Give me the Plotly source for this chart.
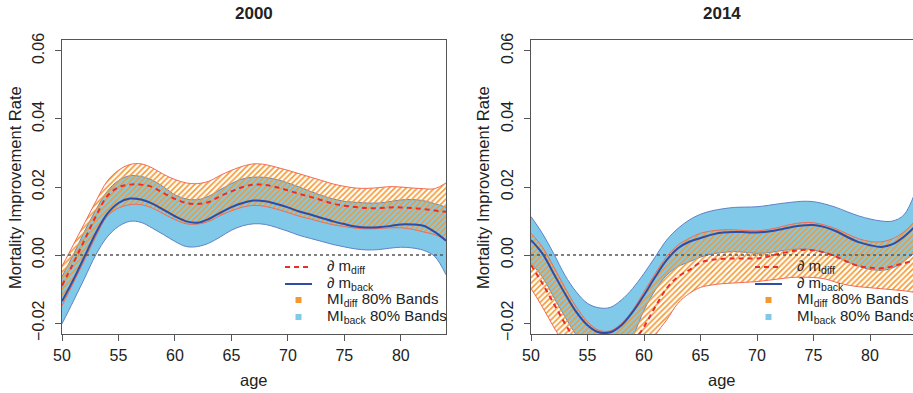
import plotly.graph_objects as go

ages = list(range(50, 85))

# ---- 2000 ----
diff_mean_2000 = [-0.0090, -0.0024, 0.0045, 0.0114, 0.0173, 0.0199, 0.0207, 0.0207, 0.0200, 0.0182, 0.0165, 0.0153, 0.0150, 0.0156, 0.0173, 0.0187, 0.0200, 0.0207, 0.0206, 0.0199, 0.0190, 0.0180, 0.0171, 0.0161, 0.0151, 0.0145, 0.0141, 0.0138, 0.0138, 0.0140, 0.0140, 0.0138, 0.0135, 0.0131, 0.0127]
diff_upper_2000 = [-0.0033, 0.0030, 0.0094, 0.0158, 0.0217, 0.0249, 0.0266, 0.0268, 0.0256, 0.0237, 0.0222, 0.0212, 0.0210, 0.0217, 0.0234, 0.0249, 0.0261, 0.0268, 0.0266, 0.0258, 0.0249, 0.0239, 0.0229, 0.0219, 0.0209, 0.0202, 0.0197, 0.0196, 0.0198, 0.0201, 0.0200, 0.0197, 0.0195, 0.0195, 0.0212]
diff_lower_2000 = [-0.0149, -0.0082, -0.0014, 0.0055, 0.0114, 0.0138, 0.0148, 0.0148, 0.0138, 0.0121, 0.0104, 0.0092, 0.0091, 0.0099, 0.0116, 0.0130, 0.0141, 0.0146, 0.0143, 0.0135, 0.0125, 0.0114, 0.0106, 0.0097, 0.0089, 0.0084, 0.0079, 0.0077, 0.0078, 0.0080, 0.0080, 0.0076, 0.0068, 0.0060, 0.0045]
back_mean_2000 = [-0.0136, -0.0073, -0.0004, 0.0065, 0.0121, 0.0153, 0.0166, 0.0163, 0.0151, 0.0133, 0.0114, 0.0099, 0.0095, 0.0106, 0.0124, 0.0141, 0.0153, 0.0160, 0.0158, 0.0150, 0.0140, 0.0128, 0.0119, 0.0109, 0.0099, 0.0091, 0.0084, 0.0081, 0.0082, 0.0085, 0.0090, 0.0090, 0.0086, 0.0068, 0.0042]
back_upper_2000 = [-0.0063, 0.0001, 0.0070, 0.0133, 0.0187, 0.0219, 0.0233, 0.0231, 0.0220, 0.0200, 0.0177, 0.0165, 0.0163, 0.0173, 0.0192, 0.0210, 0.0224, 0.0229, 0.0228, 0.0222, 0.0212, 0.0200, 0.0187, 0.0175, 0.0165, 0.0158, 0.0155, 0.0153, 0.0153, 0.0157, 0.0162, 0.0163, 0.0160, 0.0151, 0.0141]
back_lower_2000 = [-0.0202, -0.0136, -0.0068, 0.0001, 0.0053, 0.0084, 0.0099, 0.0096, 0.0079, 0.0060, 0.0040, 0.0025, 0.0025, 0.0035, 0.0053, 0.0073, 0.0086, 0.0092, 0.0090, 0.0081, 0.0070, 0.0058, 0.0049, 0.0040, 0.0031, 0.0024, 0.0018, 0.0015, 0.0016, 0.0020, 0.0023, 0.0021, 0.0014, -0.0004, -0.0058]

# ---- 2014 ----
diff_mean_2014 = [-0.0029, -0.0083, -0.0142, -0.0201, -0.0255, -0.0300, -0.0330, -0.0330, -0.0310, -0.0260, -0.0211, -0.0152, -0.0098, -0.0064, -0.0044, -0.0022, -0.0014, -0.0011, -0.0010, -0.0010, -0.0010, -0.0004, 0.0004, 0.0011, 0.0015, 0.0014, 0.0007, -0.0005, -0.0020, -0.0032, -0.0037, -0.0039, -0.0033, -0.0024, -0.0015]
diff_upper_2014 = [0.0064, 0.0024, -0.0034, -0.0095, -0.0152, -0.0196, -0.0221, -0.0223, -0.0201, -0.0162, -0.0108, -0.0054, -0.0005, 0.0029, 0.0049, 0.0064, 0.0071, 0.0074, 0.0074, 0.0072, 0.0071, 0.0075, 0.0082, 0.0090, 0.0095, 0.0095, 0.0088, 0.0077, 0.0062, 0.0048, 0.0040, 0.0039, 0.0048, 0.0068, 0.0100]
diff_lower_2014 = [-0.0098, -0.0152, -0.0211, -0.0265, -0.0320, -0.0360, -0.0390, -0.0400, -0.0380, -0.0340, -0.0290, -0.0235, -0.0191, -0.0142, -0.0113, -0.0095, -0.0088, -0.0084, -0.0082, -0.0080, -0.0078, -0.0074, -0.0070, -0.0066, -0.0065, -0.0066, -0.0070, -0.0080, -0.0088, -0.0093, -0.0096, -0.0099, -0.0102, -0.0105, -0.0110]
back_mean_2014 = [0.0044, 0.0005, -0.0054, -0.0113, -0.0167, -0.0206, -0.0227, -0.0227, -0.0206, -0.0167, -0.0118, -0.0064, -0.0015, 0.0020, 0.0039, 0.0050, 0.0060, 0.0066, 0.0068, 0.0067, 0.0066, 0.0069, 0.0075, 0.0082, 0.0087, 0.0088, 0.0082, 0.0070, 0.0053, 0.0038, 0.0029, 0.0024, 0.0032, 0.0054, 0.0085]
back_upper_2014 = [0.0113, 0.0064, 0.0005, -0.0059, -0.0108, -0.0142, -0.0155, -0.0154, -0.0132, -0.0098, -0.0054, -0.0005, 0.0044, 0.0078, 0.0103, 0.0120, 0.0130, 0.0136, 0.0140, 0.0141, 0.0142, 0.0146, 0.0151, 0.0155, 0.0158, 0.0157, 0.0150, 0.0140, 0.0127, 0.0115, 0.0106, 0.0100, 0.0100, 0.0118, 0.0185]
back_lower_2014 = [-0.0024, -0.0064, -0.0123, -0.0181, -0.0235, -0.0280, -0.0300, -0.0300, -0.0280, -0.0238, -0.0162, -0.0103, -0.0059, -0.0034, -0.0020, -0.0006, 0.0003, 0.0008, 0.0010, 0.0008, 0.0005, 0.0007, 0.0012, 0.0016, 0.0018, 0.0015, 0.0007, -0.0005, -0.0020, -0.0033, -0.0042, -0.0045, -0.0038, -0.0018, 0.0008]

panel_titles = ["2000", "2014"]
x_ticks = [50, 55, 60, 65, 70, 75, 80]
y_ticks = [-0.02, 0.0, 0.02, 0.04, 0.06]
legend_names = ["<i>∂</i> m<sub>diff</sub>", "<i>∂</i> m<sub>back</sub>",
                "MI<sub>diff</sub> 80% Bands", "MI<sub>back</sub> 80% Bands"]

BLUE_FILL = "#80C9E9"
BLUE_EDGE = "#5F82C8"
BLUE_LINE = "#2F4CA6"
ORANGE = "#F5982F"
SALMON = "#F26A55"
RED = "#EE2B24"
FONT = "Liberation Sans, Arial, sans-serif"

W, H = 913, 393
top_px, bot_px = 40, 334
ydom = [(H - bot_px) / H, (H - top_px) / H]
panels = [
    dict(data=(diff_mean_2000, diff_upper_2000, diff_lower_2000, back_mean_2000, back_upper_2000, back_lower_2000),
         dom=[62 / W, 446 / W], xr=[50, 84], xa="x", ya="y", cx=254, ylab=15, leg_x=285),
    dict(data=(diff_mean_2014, diff_upper_2014, diff_lower_2014, back_mean_2014, back_upper_2014, back_lower_2014),
         dom=[531 / W, 1.0], xr=[50, 50 + (913 - 531) / 11.3], xa="x2", ya="y2", cx=722, ylab=483, leg_x=755),
]

fig = go.Figure()
for p in panels:
    dm, du, dl, bm, bu, bl = p["data"]
    common = dict(xaxis=p["xa"], yaxis=p["ya"], line_shape="spline", hoverinfo="skip", showlegend=False)
    fig.add_trace(go.Scatter(x=ages, y=bl, mode="lines", line=dict(color=BLUE_EDGE, width=1), **common))
    fig.add_trace(go.Scatter(x=ages, y=bu, mode="lines", line=dict(color=BLUE_EDGE, width=1),
                             fill="tonexty", fillcolor=BLUE_FILL, name=legend_names[3], **common))
    fig.add_trace(go.Scatter(x=ages, y=dl, mode="lines", line=dict(color=SALMON, width=1), **common))
    fig.add_trace(go.Scatter(x=ages, y=du, mode="lines", line=dict(color=SALMON, width=1),
                             fill="tonexty", fillcolor="rgba(0,0,0,0)", name=legend_names[2],
                             fillpattern=dict(shape="/", fgcolor=ORANGE, bgcolor="rgba(0,0,0,0)",
                                              size=4, solidity=0.4, fillmode="replace"),
                             **common))
    fig.add_trace(go.Scatter(x=ages, y=bm, mode="lines", line=dict(color=BLUE_LINE, width=2),
                             name=legend_names[1], **common))
    fig.add_trace(go.Scatter(x=ages, y=dm, mode="lines", line=dict(color=RED, width=2, dash="5px,4px"),
                             name=legend_names[0], **common))

axis_common = dict(showgrid=False, zeroline=False, ticks="outside", ticklen=6, tickcolor="#555",
                   linecolor="#555", linewidth=1, showline=True, automargin=False,
                   tickfont=dict(family=FONT, size=16, color="#222"))
fig.update_layout(
    xaxis=dict(domain=panels[0]["dom"], range=panels[0]["xr"], tickvals=x_ticks, mirror=True,
               anchor="y", ticklabelstandoff=1, **axis_common),
    yaxis=dict(domain=ydom, range=[-0.0232, 0.0632], tickvals=y_ticks, tickformat=".2f",
               tickangle=-90, mirror=True, anchor="x", ticklabelstandoff=5, **axis_common),
    xaxis2=dict(domain=panels[1]["dom"], range=panels[1]["xr"], tickvals=x_ticks, mirror=True,
                anchor="y2", ticklabelstandoff=1, **axis_common),
    yaxis2=dict(domain=ydom, range=[-0.0232, 0.0632], tickvals=y_ticks, tickformat=".2f",
                tickangle=-90, anchor="x2", ticklabelstandoff=5, **axis_common),
)

shapes = []
for xa in ["x", "x2"]:
    shapes.append(dict(type="line", xref=f"{xa} domain", yref=xa.replace("x", "y"), x0=0, x1=1, y0=0, y1=0,
                       line=dict(color="#555", width=1.5, dash="3px,3px"), layer="above"))

# legend (drawn per panel, R style, no box)
row_y = [267, 284, 300, 317]
ann = []
for i, p in enumerate(panels):
    lx = p["leg_x"]
    px = lambda v: v / W
    py = lambda v: (H - v) / H
    shapes.append(dict(type="line", xref="paper", yref="paper", x0=px(lx), x1=px(lx + 27),
                       y0=py(row_y[0]), y1=py(row_y[0]), line=dict(color=RED, width=2, dash="5px,4px")))
    shapes.append(dict(type="line", xref="paper", yref="paper", x0=px(lx), x1=px(lx + 27),
                       y0=py(row_y[1]), y1=py(row_y[1]), line=dict(color=BLUE_LINE, width=2)))
    for r, col in ((2, ORANGE), (3, BLUE_FILL)):
        shapes.append(dict(type="rect", xref="paper", yref="paper", x0=px(lx + 10.5), x1=px(lx + 16.5),
                           y0=py(row_y[r] + 3), y1=py(row_y[r] - 3), line=dict(width=0), fillcolor=col))
    for r in range(4):
        ann.append(dict(text=legend_names[r], x=px(lx + 40), y=py(row_y[r] - 1), xref="paper", yref="paper",
                        showarrow=False, xanchor="left", yanchor="middle",
                        font=dict(family=FONT, size=15, color="#222")))

    ann.append(dict(text=f"<b>{panel_titles[i]}</b>", x=p["cx"] / W, y=(H - 14) / H, xref="paper", yref="paper",
                    showarrow=False, font=dict(family=FONT, size=17, color="#222"),
                    xanchor="center", yanchor="middle"))
    ann.append(dict(text="age", x=p["cx"] / W, y=(H - 380) / H, xref="paper", yref="paper",
                    showarrow=False, font=dict(family=FONT, size=16.5, color="#222"),
                    xanchor="center", yanchor="middle"))
    ann.append(dict(text="Mortality Improvement Rate", x=p["ylab"] / W, y=(H - 188) / H, xref="paper", yref="paper",
                    showarrow=False, textangle=-90, font=dict(family=FONT, size=16.5, color="#222"),
                    xanchor="center", yanchor="middle"))

fig.update_layout(annotations=ann, shapes=shapes, width=W, height=H,
                  margin=dict(l=0, r=0, t=0, b=0, autoexpand=False),
                  plot_bgcolor="white", paper_bgcolor="white", showlegend=False)

fig.write_html("out.html", config={"displayModeBar": False},
               post_script="document.body.style.margin='0';document.body.style.overflow='hidden';")
